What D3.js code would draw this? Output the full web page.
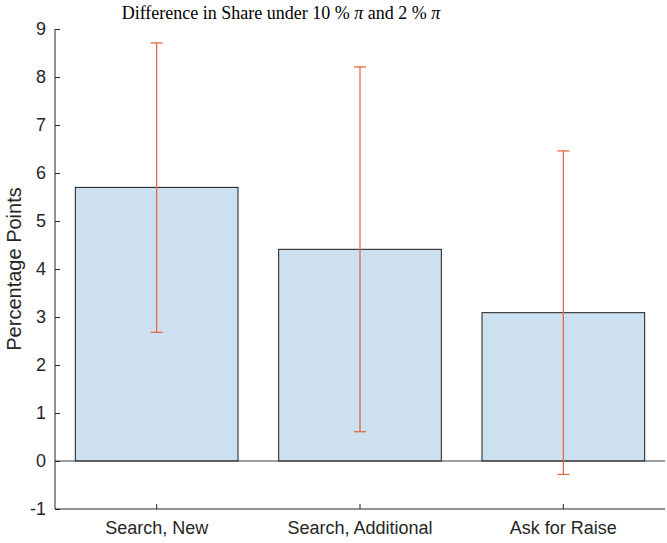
<!DOCTYPE html>
<html>
<head>
<meta charset="utf-8">
<script src="https://cdn.jsdelivr.net/npm/d3@7"></script>
<style>
  body { margin: 0; background: #fff; }
  svg { display: block; }
</style>
</head>
<body>
<script>
const categories = ["Search, New", "Search, Additional", "Ask for Raise"];
const values = [5.70, 4.41, 3.09];
const upper = [8.71, 8.21, 6.46];
const lower = [2.68, 0.61, -0.28];
const yTicks = [-1, 0, 1, 2, 3, 4, 5, 6, 7, 8, 9];

const w = 667, h = 543;
const mLeft = 55, mRight = 665, mTop = 29, mBottom = 509;
const axisColor = "#262626";

const svg = d3.select("body").append("svg")
  .attr("width", w)
  .attr("height", h);

const x = d3.scaleBand()
  .domain(categories)
  .range([mLeft, mRight])
  .padding(0);

const y = d3.scaleLinear()
  .domain([-1, 9])
  .range([mBottom, mTop]);

const barW = x.bandwidth() * 0.8;

// bars
svg.selectAll("rect.bar")
  .data(values)
  .enter()
  .append("rect")
    .attr("class", "bar")
    .attr("x", (d, i) => x(categories[i]) + x.bandwidth() / 2 - barW / 2)
    .attr("y", d => y(Math.max(d, 0)))
    .attr("width", barW)
    .attr("height", d => Math.abs(y(d) - y(0)))
    .style("fill", "#cce0f0")
    .style("stroke", "#1a1a1a")
    .style("stroke-width", 1);

// zero baseline
svg.append("line")
  .attr("x1", mLeft).attr("x2", mRight)
  .attr("y1", y(0)).attr("y2", y(0))
  .style("stroke", "#3a3a3a")
  .style("stroke-width", 1);

// axes
const yAxis = d3.axisLeft(y).tickValues(yTicks).tickFormat(d => String(d))
  .tickSizeInner(-5).tickSizeOuter(0).tickPadding(9);
const xAxis = d3.axisBottom(x).tickSizeInner(-5).tickSizeOuter(0).tickPadding(12);

const gy = svg.append("g")
  .attr("transform", "translate(" + mLeft + ",0)")
  .call(yAxis);
const gx = svg.append("g")
  .attr("transform", "translate(0," + mBottom + ")")
  .call(xAxis);

[gx, gy].forEach(g => {
  g.select(".domain").style("stroke", axisColor);
  g.selectAll(".tick line").style("stroke", axisColor);
  g.selectAll(".tick text")
    .style("fill", axisColor)
    .style("font-family", "Liberation Sans, Arial, sans-serif")
    .style("font-size", "18px");
});
gx.select(".domain").attr("d", "M" + mLeft + ",0H" + mRight);
gy.select(".domain").attr("d", "M0," + mBottom + "V" + mTop);

// error bars
const errColor = "#e46a45";
const cap = 6;
const eb = svg.selectAll("g.err")
  .data(categories)
  .enter()
  .append("g")
    .attr("class", "err")
    .style("stroke", errColor)
    .style("stroke-width", 1.3);
eb.append("line")
  .attr("x1", d => x(d) + x.bandwidth() / 2)
  .attr("x2", d => x(d) + x.bandwidth() / 2)
  .attr("y1", (d, i) => y(upper[i]))
  .attr("y2", (d, i) => y(lower[i]));
eb.append("line")
  .attr("x1", d => x(d) + x.bandwidth() / 2 - cap)
  .attr("x2", d => x(d) + x.bandwidth() / 2 + cap)
  .attr("y1", (d, i) => y(upper[i]))
  .attr("y2", (d, i) => y(upper[i]));
eb.append("line")
  .attr("x1", d => x(d) + x.bandwidth() / 2 - cap)
  .attr("x2", d => x(d) + x.bandwidth() / 2 + cap)
  .attr("y1", (d, i) => y(lower[i]))
  .attr("y2", (d, i) => y(lower[i]));

// title
svg.append("text")
  .attr("x", 281)
  .attr("y", 19)
  .attr("text-anchor", "middle")
  .style("font-family", "Liberation Serif, DejaVu Serif, serif")
  .style("font-size", "18px")
  .style("fill", "#000")
  .html("Difference in Share under 10 % <tspan font-style='italic'>π</tspan> and 2 % <tspan font-style='italic'>π</tspan>");

// y label
svg.append("text")
  .attr("transform", "rotate(-90)")
  .attr("x", -(mTop + mBottom) / 2)
  .attr("y", 21)
  .attr("text-anchor", "middle")
  .style("font-family", "Liberation Sans, Arial, sans-serif")
  .style("font-size", "20px")
  .style("fill", axisColor)
  .text("Percentage Points");
</script>
</body>
</html>
